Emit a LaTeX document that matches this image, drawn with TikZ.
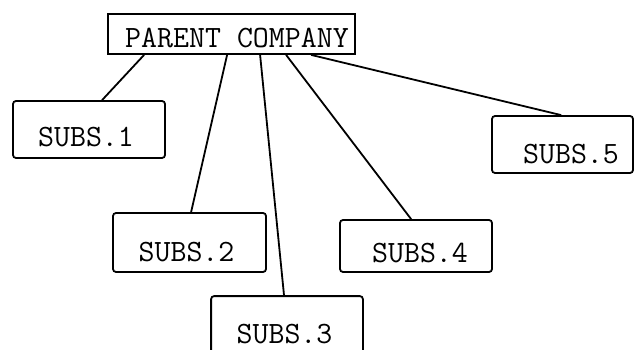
\documentclass[tikz,border=0pt]{standalone}
\usepackage{fontspec}
\begin{document}
\begin{tikzpicture}[x=1pt,y=-1pt,
  line width=1.8pt,
  box/.style={draw, rounded corners=3pt, inner sep=0pt},
  pbox/.style={draw, inner sep=0pt},
  openbox/.style={inner sep=0pt},
  lbl/.style={inner sep=0pt, anchor=center, font=\ttfamily\fontsize{31}{34}\selectfont},
  link/.style={line width=1.8pt}]
\useasboundingbox (0,0) rectangle (640,350);

% company boxes
\node[pbox, minimum width=247pt, minimum height=40pt] (p)  at (231.5,34)  {};
\node[box,  minimum width=152pt, minimum height=57pt] (s1) at (89,129.5)  {};
\node[box,  minimum width=153pt, minimum height=59pt] (s2) at (189.5,242.5) {};
\node[box,  minimum width=152pt, minimum height=52pt] (s4) at (416,246)   {};
\node[box,  minimum width=141pt, minimum height=57pt] (s5) at (562.5,144.5) {};
% the lowest box runs on past the bottom edge: only its top and sides show
\node[openbox, minimum width=150pt, minimum height=53pt] (s3) at (287,323.5) {};
\draw[rounded corners=3pt] (s3.south west) -- (s3.north west) -- (s3.north east) -- (s3.south east);

% box texts
\node[lbl] (tp) at (237,37.5) {PARENT COMPANY};
\node[lbl] (t1) at (86,137)   {SUBS.1};
\node[lbl] (t2) at (186.5,252.5) {SUBS.2};
\node[lbl] (t3) at (284.5,334.5) {SUBS.3};
\node[lbl] (t4) at (420,253)  {SUBS.4};
\node[lbl] (t5) at (571,154)  {SUBS.5};

% ownership links
\draw[link] ([xshift=37pt]p.south west)  -- ([xshift=90pt]s1.north west);
\draw[link] ([xshift=120pt]p.south west) -- ([xshift=79pt]s2.north west);
\draw[link] ([xshift=153pt]p.south west) -- ([xshift=73pt]s3.north west);
\draw[link] ([xshift=179pt]p.south west) -- ([xshift=72pt]s4.north west);
\draw[link] ([xshift=204pt]p.south west) -- ([xshift=70pt]s5.north west);
\end{tikzpicture}
\end{document}
